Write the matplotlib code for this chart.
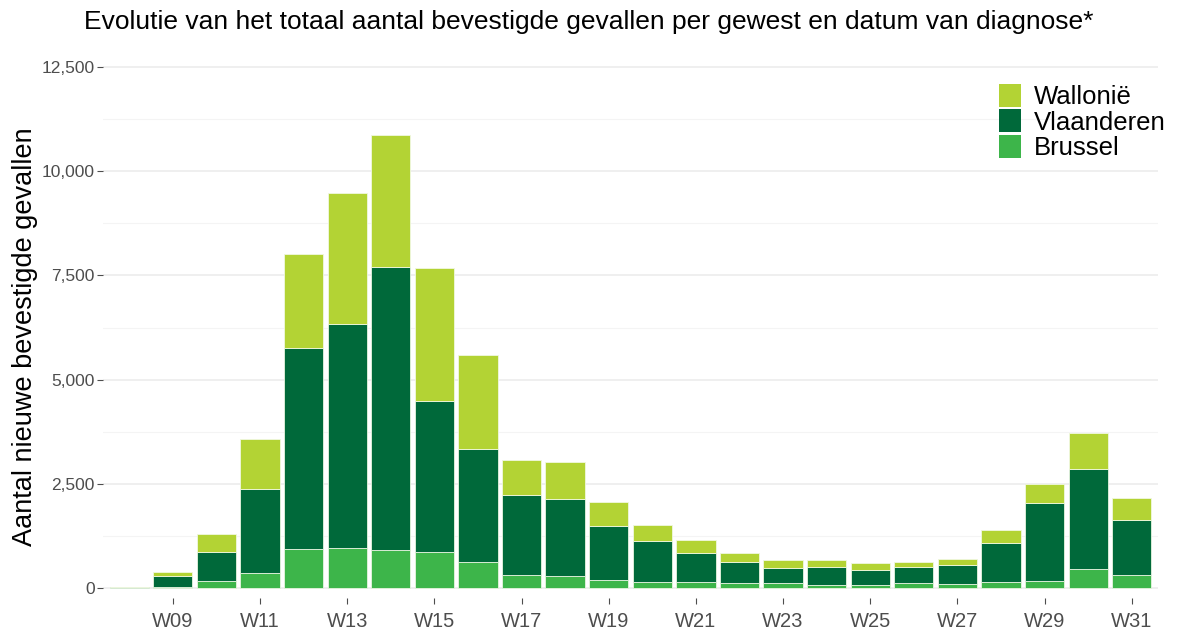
import matplotlib
matplotlib.use("Agg")
import matplotlib.pyplot as plt
import numpy as np

# weeks W08..W31
weeks = ["W%02d" % w for w in range(8, 32)]

# cumulative tops (Brussel, +Vlaanderen, +Wallonie)
brussel_top = [10, 30, 168, 368, 944, 960, 912, 856, 624, 304, 296, 192,
               152, 152, 120, 120, 80, 80, 120, 104, 136, 168, 456, 312]
vlaanderen_top = [18, 288, 872, 2376, 5760, 6336, 7704, 4488, 3328, 2232, 2128, 1496,
                  1128, 832, 624, 480, 512, 424, 512, 560, 1072, 2032, 2864, 1624]
wallonie_top = [22, 376, 1288, 3576, 8016, 9480, 10872, 7680, 5592, 3064, 3032, 2056,
                1504, 1144, 848, 664, 664, 600, 632, 704, 1384, 2496, 3720, 2168]

brussel = np.array(brussel_top)
vlaanderen = np.array(vlaanderen_top) - brussel
wallonie = np.array(wallonie_top) - np.array(vlaanderen_top)

col_wal = "#b3d334"
col_vla = "#00693a"
col_bru = "#3db54a"

plt.rcParams["font.family"] = ["Liberation Sans", "DejaVu Sans"]

fig = plt.figure(figsize=(11.77, 6.39), dpi=100)
ax = fig.add_axes([103 / 1177, 1 - 598 / 639, (1158 - 103) / 1177, (598 - 54) / 639])

x = np.arange(len(weeks))
w = 0.9
ax.bar(x, brussel, width=w, color=col_bru, edgecolor="#e8f5e0", linewidth=0.6, label="Brussel", zorder=3)
ax.bar(x, vlaanderen, width=w, bottom=brussel, color=col_vla, edgecolor="#e8f5e0", linewidth=0.6,
       label="Vlaanderen", zorder=3)
ax.bar(x, wallonie, width=w, bottom=brussel + vlaanderen, color=col_wal, edgecolor="#f0f8e0",
       linewidth=0.6, label="Wallonië", zorder=3)

ax.set_xlim(-0.6, len(weeks) - 0.4)
ax.set_ylim(-240, 12812)

ax.set_yticks([0, 2500, 5000, 7500, 10000, 12500])
ax.set_yticklabels(["0", "2,500", "5,000", "7,500", "10,000", "12,500"])
ax.set_yticks([1250, 3750, 6250, 8750, 11250], minor=True)
ax.grid(axis="y", which="major", color="#ebebeb", linewidth=1.1, zorder=0)
ax.grid(axis="y", which="minor", color="#f4f4f4", linewidth=0.8, zorder=0)

ax.set_xticks(x[1::2])
ax.set_xticklabels(weeks[1::2])

ax.tick_params(axis="y", which="major", length=4, color="#4d4d4d", labelcolor="#4d4d4d",
               labelsize=12.5, pad=2)
ax.tick_params(axis="y", which="minor", length=0)
ax.tick_params(axis="x", length=4, color="#4d4d4d", labelcolor="#4d4d4d", labelsize=14.5, pad=6)

for s in ax.spines.values():
    s.set_visible(False)

ax.set_ylabel("Aantal nieuwe bevestigde gevallen", fontsize=19.5)
ax.yaxis.set_label_coords(-0.062, 0.48)
fig.text(0.5, 0.965, "Evolutie van het totaal aantal bevestigde gevallen per gewest en datum van diagnose*",
         ha="center", va="center", fontsize=19)

handles, labels = ax.get_legend_handles_labels()
leg = fig.legend(handles[::-1], labels[::-1], loc="upper left", bbox_to_anchor=(981 / 1177, 1 - 66 / 639),
                 frameon=False, fontsize=18.5, handlelength=0.85, handleheight=1.0, handletextpad=0.5,
                 labelspacing=0.0, borderpad=0.2)
for h in leg.legend_handles:
    h.set_edgecolor("none")

fig.savefig("out.png", dpi=100)
